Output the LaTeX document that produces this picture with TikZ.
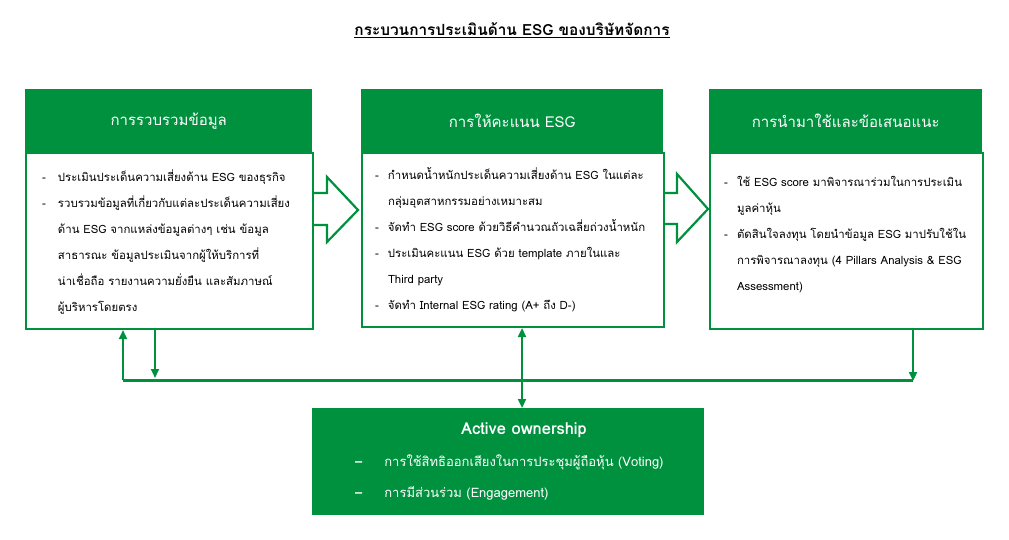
\documentclass[tikz,border=0pt]{standalone}
\usepackage{fontspec}
\newfontfamily\thaifont[Script=Thai]{Loma}
\usetikzlibrary{arrows.meta}
\definecolor{esggreen}{RGB}{0,145,63}

\begin{document}
\begin{tikzpicture}
  [x=1pt,y=-1pt,font=\thaifont,
   head/.style={fill=esggreen,text=white,inner sep=0,anchor=north west,font=\thaifont\fontsize{15}{17}\selectfont},
   body/.style={draw=esggreen,line width=2pt,inner sep=0,anchor=north west},
   items/.style={anchor=north west,inner sep=0,align=left,font=\thaifont\fontsize{11.4}{26}\selectfont},
   link/.style={draw=esggreen,line width=2.2pt},
   tip/.style={-{Triangle[length=9pt,width=8pt]}},
   chevron/.style={draw=esggreen,line width=2.2pt,line join=miter}]
  \useasboundingbox (0,0) rectangle (1009,540);

  \node (title) at (512,30) {\fontsize{15.4}{18}\selectfont\bfseries\underline{กระบวนการประเมินด้าน ESG ของบริษัทจัดการ}};

  % three steps
  \node[head,minimum width=287pt,minimum height=63pt] (h1) at (25,89) {การรวบรวมข้อมูล};
  \node[body,minimum width=287pt,minimum height=176pt] (b1) at (25,152) {};
  \node[head,minimum width=302pt,minimum height=63pt] (h2) at (361,89) {การให้คะแนน ESG};
  \node[body,minimum width=302pt,minimum height=174pt] (b2) at (361,152) {};
  \node[head,minimum width=273pt,minimum height=63pt] (h3) at (709,89) {การนำมาใช้และข้อเสนอแนะ};
  \node[body,minimum width=273pt,minimum height=176pt] (b3) at (709,152) {};

  \node[items] (t1) at (42,163) {\begin{tabular}{@{}l@{\hspace{12pt}}l@{}}
    - & ประเมินประเด็นความเสี่ยงด้าน ESG ของธุรกิจ\\
    - & รวบรวมข้อมูลที่เกี่ยวกับแต่ละประเด็นความเสี่ยง\\
      & ด้าน ESG จากแหล่งข้อมูลต่างๆ เช่น ข้อมูล\\
      & สาธารณะ ข้อมูลประเมินจากผู้ให้บริการที่\\
      & น่าเชื่อถือ รายงานความยั่งยืน และสัมภาษณ์\\
      & ผู้บริหารโดยตรง
  \end{tabular}};
  \node[items] (t2) at (375,161) {\begin{tabular}{@{}l@{\hspace{9pt}}l@{}}
    - & กำหนดน้ำหนักประเด็นความเสี่ยงด้าน  ESG ในแต่ละ\\
      & กลุ่มอุตสาหกรรมอย่างเหมาะสม\\
    - & จัดทำ ESG score ด้วยวิธีคำนวณถัวเฉลี่ยถ่วงน้ำหนัก\\
    - & ประเมินคะแนน ESG ด้วย template ภายในและ\\
      & Third party\\
    - & จัดทำ Internal ESG  rating (A+ ถึง D-)
  \end{tabular}};
  \node[items] (t3) at (724,168) {\begin{tabular}{@{}l@{\hspace{9pt}}l@{}}
    - & ใช้ ESG score มาพิจารณาร่วมในการประเมิน\\
      & มูลค่าหุ้น\\
    - & ตัดสินใจลงทุน โดยนำข้อมูล ESG มาปรับใช้ใน\\
      & การพิจารณาลงทุน  (4 Pillars Analysis \& ESG\\
      & Assessment)
  \end{tabular}};

  % block arrows between steps
  \draw[chevron] (312,193) -- (327,193) -- (327,177) -- (358,210) -- (327,242) -- (327,225) -- (312,225);
  \draw[chevron] (663,193) -- (677,193) -- (677,174) -- (708,209) -- (677,242) -- (677,224) -- (663,224);

  % active ownership
  \node[head,minimum width=392pt,minimum height=107pt] (ao) at (312,408) {};
  \node[text=white,font=\thaifont\fontsize{16.5}{18}\selectfont\bfseries] (aot) at (524,430) {Active ownership};
  \node[items,text=white,font=\thaifont\fontsize{13}{31}\selectfont] (t4) at (355,445) {\begin{tabular}{@{}l@{\hspace{22pt}}l@{}}
    \textbf{–} & การใช้สิทธิออกเสียงในการประชุมผู้ถือหุ้น (Voting)\\
    \textbf{–} & การมีส่วนร่วม (Engagement)
  \end{tabular}};

  % feedback lines
  \coordinate (jl) at (123,380);
  \coordinate (jr) at (913,380);
  \coordinate (d1) at (155,378);
  \coordinate (m) at (522,380);
  \draw[link,line width=3pt] (jl) -- (jr);
  \draw[link,tip] (jl) -- (jl |- b1.south);
  \draw[link,tip] (d1 |- b1.south) -- (d1);
  \draw[link,tip] (jr |- b3.south) -- ([yshift=-1pt]jr);
  \draw[link,{Triangle[length=9pt,width=8pt]}-{Triangle[length=9pt,width=8pt]}] (m |- b2.south) -- (m |- ao.north);
\end{tikzpicture}
\end{document}
